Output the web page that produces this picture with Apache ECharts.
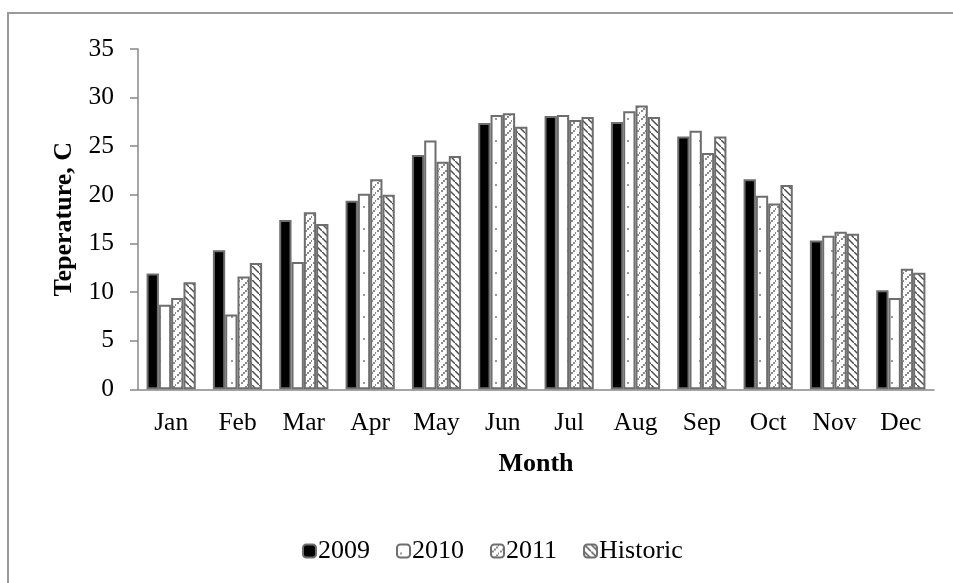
<!DOCTYPE html>
<html>
<head>
<meta charset="utf-8">
<script src="https://cdn.jsdelivr.net/npm/echarts@6/dist/echarts.min.js"></script>
<style>html,body{margin:0;padding:0;background:#fff}#c{width:953px;height:583px}</style>
</head>
<body>
<div id="c"></div>
<script>
const months = ['Jan','Feb','Mar','Apr','May','Jun','Jul','Aug','Sep','Oct','Nov','Dec'];
const y2009 = [11.9, 14.3, 17.4, 19.4, 24.1, 27.4, 28.1, 27.5, 26.0, 21.6, 15.3, 10.2];
const y2010 = [8.7, 7.7, 13.1, 20.1, 25.6, 28.2, 28.2, 28.6, 26.6, 19.9, 15.8, 9.4];
const y2011 = [9.4, 11.6, 18.2, 21.6, 23.4, 28.4, 27.7, 29.2, 24.3, 19.1, 16.2, 12.4];
const historic = [11, 13, 17, 20, 24, 27, 28, 28, 26, 21, 16, 12];
const yTicks = [0, 5, 10, 15, 20, 25, 30, 35];

function tile(w, h, draw) {
  const c = document.createElement('canvas');
  c.width = w; c.height = h;
  const g = c.getContext('2d');
  g.fillStyle = '#fff'; g.fillRect(0, 0, w, h);
  draw(g);
  return c;
}
const pat2010 = tile(12, 22, g => { g.fillStyle = '#9a9a9a'; g.fillRect(3, 8, 2, 2); });
const pat2011 = tile(8, 8, g => {
  g.fillStyle = '#8a8a8a';
  for (let i = 0; i < 8; i += 2) g.fillRect(7 - i, i, 2, 2);
});
const patHist = tile(7, 7, g => {
  g.fillStyle = '#4a4a4a';
  for (let i = 0; i < 7; i++) g.fillRect(i, i, 1.6, 1.4);
});

const font = 'Liberation Serif, Times New Roman, serif';
const border = { borderColor: '#6e6e6e', borderWidth: 2 };
function ser(name, data, color) {
  return {
    name, type: 'bar', data, barWidth: 12.3, barGap: '0%',
    itemStyle: Object.assign({ color }, border)
  };
}

const chart = echarts.init(document.getElementById('c'), null, { renderer: 'canvas' });
chart.setOption({
  animation: false,
  backgroundColor: '#fff',
  textStyle: { fontFamily: font },
  graphic: [{
    type: 'rect', shape: { x: 8, y: 13, width: 960, height: 620 },
    style: { fill: 'none', stroke: '#9a9a9a', lineWidth: 2 }, silent: true, z: -1
  }],
  grid: { left: 138, top: 49, width: 796, height: 340.3 },
  legend: {
    left: 297, top: 533, itemGap: 26, itemWidth: 13, itemHeight: 13,
    textStyle: { fontFamily: font, fontSize: 26, color: '#000', padding: [2, 0, 0, -3] },
    data: ['2009', '2010', '2011', 'Historic']
  },
  xAxis: {
    type: 'category', data: months,
    name: 'Month', nameLocation: 'middle', nameGap: 62,
    nameTextStyle: { fontFamily: font, fontSize: 26, fontWeight: 'bold', color: '#000' },
    axisLine: { lineStyle: { color: '#888', width: 1.5 } },
    axisTick: { length: 8, lineStyle: { color: '#888', width: 1.5 } },
    axisLabel: { fontFamily: font, fontSize: 25.5, color: '#000', margin: 21, interval: 0 }
  },
  yAxis: {
    type: 'value', min: yTicks[0], max: yTicks[yTicks.length - 1], interval: 5,
    name: 'Teperature, C', nameLocation: 'middle', nameGap: 58,
    nameTextStyle: { fontFamily: font, fontSize: 26, fontWeight: 'bold', color: '#000' },
    axisLine: { show: true, lineStyle: { color: '#888', width: 1.5 } },
    axisTick: { show: true, length: 8, lineStyle: { color: '#888', width: 1.5 } },
    splitLine: { show: false },
    axisLabel: { fontFamily: font, fontSize: 25.5, color: '#000', margin: 24 }
  },
  series: [
    ser('2009', y2009, '#000'),
    ser('2010', y2010, { image: pat2010, repeat: 'repeat' }),
    ser('2011', y2011, { image: pat2011, repeat: 'repeat' }),
    ser('Historic', historic, { image: patHist, repeat: 'repeat' })
  ]
});
</script>
</body>
</html>
